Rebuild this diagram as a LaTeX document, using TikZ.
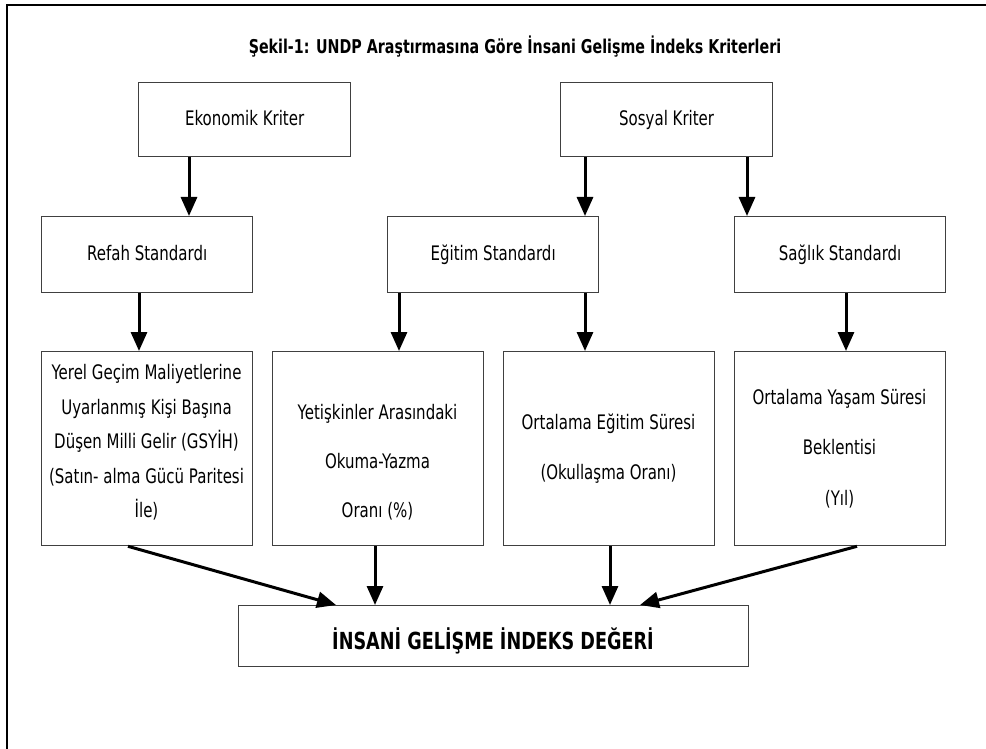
\documentclass[tikz,border=0pt]{standalone}
\usepackage{fontspec}
\setmainfont{DejaVu Sans}[FakeStretch=0.75]
\usetikzlibrary{arrows.meta}
\begin{document}
\begin{tikzpicture}[x=1pt,y=-1pt,
  box/.style={draw=black!75, line width=1.3pt, rectangle, inner sep=0pt, anchor=north west,
    text height=15pt, text depth=4pt, font=\fontsize{20}{24}\selectfont},
  arr/.style={line width=3pt, -{Triangle[length=19pt,width=16pt]}},
  txt/.style={align=center, inner sep=0pt}]
\useasboundingbox (0,0) rectangle (986,749);
\fill[white] (0,0) rectangle (986,749);
% outer frame
\draw[line width=2pt] (7,749) -- (7,5) -- (986,5);
% title
\node[inner sep=0pt, font=\fontsize{19}{22}\selectfont\bfseries] (title) at (515,47)
  {Şekil-1: UNDP Araştırmasına Göre İnsani Gelişme İndeks Kriterleri};
% row 1
\node[box, minimum width=212pt, minimum height=74pt] (eko) at (138,82) {Ekonomik Kriter};
\node[box, minimum width=212pt, minimum height=74pt] (sos) at (560,82) {Sosyal Kriter};
% row 2
\node[box, minimum width=211pt, minimum height=76pt] (refah) at (41,216) {Refah Standardı};
\node[box, minimum width=211pt, minimum height=76pt] (egitim) at (387,216) {Eğitim Standardı};
\node[box, minimum width=211pt, minimum height=76pt] (saglik) at (734,216) {Sağlık Standardı};
% row 3
\node[box, minimum width=211pt, minimum height=194pt] (b1) at (41,351) {};
\node[box, minimum width=211pt, minimum height=194pt] (b2) at (272,351) {};
\node[box, minimum width=211pt, minimum height=194pt] (b3) at (503,351) {};
\node[box, minimum width=211pt, minimum height=194pt] (b4) at (734,351) {};
\node[txt, font=\fontsize{20}{34.5}\selectfont] (t1) at (146.5,442.5)
  {Yerel Geçim Maliyetlerine\\Uyarlanmış Kişi Başına\\Düşen Milli Gelir (GSYİH)\\(Satın- alma Gücü Paritesi\\İle)};
\node[txt, font=\fontsize{20}{49}\selectfont] (t2) at (377.5,462)
  {Yetişkinler Arasındaki\\Okuma-Yazma\\Oranı (\%)};
\node[txt, font=\fontsize{20}{50}\selectfont] (t3) at (608.5,449)
  {Ortalama Eğitim Süresi\\(Okullaşma Oranı)};
\node[txt, font=\fontsize{20}{50.5}\selectfont] (t4) at (839.5,448.5)
  {Ortalama Yaşam Süresi\\Beklentisi\\(Yıl)};
% bottom
\node[box, minimum width=510pt, minimum height=61pt] (hdi) at (238,605) {};
\node[txt, font=\fontsize{23.5}{26}\selectfont\bfseries] (thdi) at (493,641)
  {İNSANİ GELİŞME İNDEKS DEĞERİ};
% x positions of connectors
\coordinate (xa) at (189,0);
\coordinate (xb) at (585,0);
\coordinate (xc) at (747,0);
\coordinate (xd) at (139,0);
\coordinate (xe) at (399,0);
\coordinate (xf) at (846,0);
\coordinate (xg) at (128,0);
\coordinate (xh) at (336,0);
\coordinate (xi) at (375,0);
\coordinate (xj) at (610,0);
\coordinate (xk) at (857,0);
\coordinate (xl) at (640,0);
% connectors
\draw[arr] (eko.south -| xa) -- (refah.north -| xa);
\draw[arr] (sos.south -| xb) -- (egitim.north -| xb);
\draw[arr] (sos.south -| xc) -- (saglik.north -| xc);
\draw[arr] (refah.south -| xd) -- (b1.north -| xd);
\draw[arr] (egitim.south -| xe) -- (b2.north -| xe);
\draw[arr] (egitim.south -| xb) -- (b3.north -| xb);
\draw[arr] (saglik.south -| xf) -- (b4.north -| xf);
\draw[arr] (b1.south -| xg) -- (hdi.north -| xh);
\draw[arr] (b2.south -| xi) -- (hdi.north -| xi);
\draw[arr] (b3.south -| xj) -- (hdi.north -| xj);
\draw[arr] (b4.south -| xk) -- (hdi.north -| xl);
\end{tikzpicture}
\end{document}
